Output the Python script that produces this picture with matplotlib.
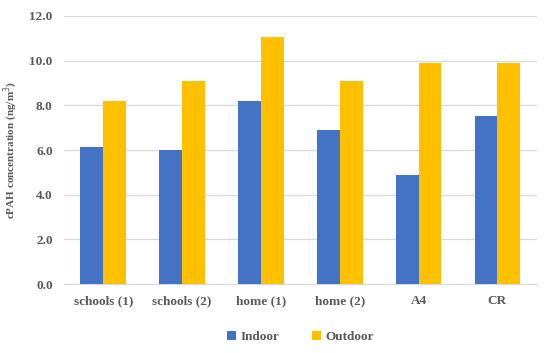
import numpy as np
import matplotlib
matplotlib.use('Agg')
import matplotlib.pyplot as plt

# cPAH concentrations (ng/m3)
categories = ['schools (1)', 'schools (2)', 'home (1)', 'home (2)', 'A4', 'CR']
indoor = [6.15, 6.0, 8.2, 6.9, 4.9, 7.5]
outdoor = [8.2, 9.1, 11.05, 9.1, 9.9, 9.9]
yticks = [0.0, 2.0, 4.0, 6.0, 8.0, 10.0, 12.0]

plt.rcParams['font.family'] = ['Liberation Serif', 'DejaVu Serif']
txt = '#595959'

fig = plt.figure(figsize=(5.5, 3.53), dpi=100)
ax = fig.add_axes([0.116, 0.195, 0.86, 0.76])

x = np.arange(len(categories))
w = 0.29
ax.bar(x - w / 2, indoor, w, color='#4472c4', label='Indoor', zorder=3)
ax.bar(x + w / 2, outdoor, w, color='#ffc000', label='Outdoor', zorder=3)

ax.set_xlim(-0.5, len(categories) - 0.5)
ax.set_ylim(0, 12)
ax.set_yticks(yticks)
ax.set_yticklabels(['%.1f' % v for v in yticks])
ax.set_xticks(x)
ax.set_xticklabels(categories)
ax.yaxis.grid(True, color='#d9d9d9', linewidth=0.9, zorder=0)
for s in ['top', 'right', 'left']:
    ax.spines[s].set_visible(False)
ax.spines['bottom'].set_color('#d9d9d9')
ax.tick_params(axis='both', length=0, colors=txt, labelsize=9.5, pad=8)
for lab in ax.get_xticklabels() + ax.get_yticklabels():
    lab.set_fontweight('bold')
ax.set_ylabel('cPAH concentration (ng/m$^3$)', color=txt, fontsize=8,
              fontweight='bold')
ax.yaxis.set_label_coords(-0.092, 0.5)

ax.legend(loc='upper center', bbox_to_anchor=(0.5, -0.13), ncol=2, frameon=False,
          prop={'size': 9.5, 'weight': 'bold'}, labelcolor=txt,
          handlelength=0.7, handleheight=0.7, columnspacing=2.5, handletextpad=0.3)

fig.savefig('out.png', dpi=100)
